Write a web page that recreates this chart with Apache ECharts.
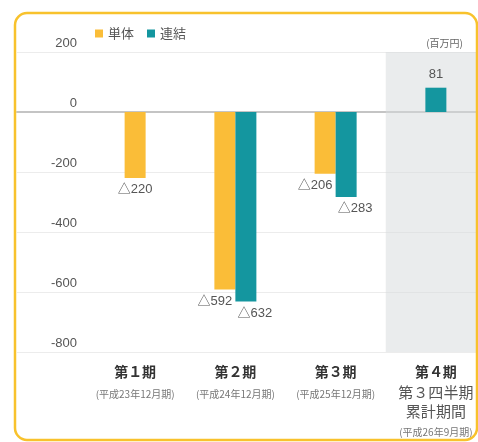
<!DOCTYPE html>
<html><head><meta charset="utf-8">
<script src="https://cdn.jsdelivr.net/npm/echarts@6/dist/echarts.min.js"></script>
<style>html,body{margin:0;padding:0;background:#fff}#c{width:478px;height:442px}</style>
</head><body><div id="c"></div>
<script>
var categories = ['第１期', '第２期', '第３期', '第４期'];
var subLabels = [
  ['(平成23年12月期)'],
  ['(平成24年12月期)'],
  ['(平成25年12月期)'],
  ['第３四半期', '累計期間', '(平成26年9月期)']
];
var tantai = [-220, -592, -206, null];   // 単体
var renketsu = [null, -632, -283, 81];   // 連結
var yTicks = { min: -800, max: 200, interval: 200 };
var unitLabel = '(百万円)';

var YELLOW = '#fabd38', TEAL = '#14969f';
var FONT = '"Liberation Sans","Noto Sans CJK JP",sans-serif';
var CJK = '"Noto Sans CJK JP",sans-serif';

function paired(i) { return tantai[i] != null && renketsu[i] != null; }
var pairT = tantai.map(function (v, i) { return paired(i) ? v : null; });
var pairR = renketsu.map(function (v, i) { return paired(i) ? v : null; });
var singleT = tantai.map(function (v, i) { return paired(i) ? null : v; });
var singleR = renketsu.map(function (v, i) { return paired(i) ? null : v; });

function fmtVal(p) {
  var v = p.value;
  if (v == null) return '';
  return v < 0 ? '△' + Math.abs(v) : String(v);
}
function lbl(offset) {
  return {
    show: true, formatter: fmtVal, color: '#555', fontSize: 13, fontFamily: FONT,
    distance: 5, offset: offset,
    position: 'bottom'
  };
}

var chart = echarts.init(document.getElementById('c'));
chart.setOption({
  animation: false,
  legend: {
    data: ['単体', '連結'], left: 90, top: 22, itemWidth: 8, itemHeight: 8, itemGap: 13,
    icon: 'rect', textStyle: { fontSize: 13, color: '#555', fontFamily: CJK }
  },
  title: {
    text: unitLabel, right: 10, top: 33,
    textStyle: { fontSize: 10, color: '#666', fontWeight: 'normal', fontFamily: CJK }
  },
  grid: [
    { left: 17, right: 0, top: 52, bottom: 90, outerBoundsMode: 'none', containLabel: false },
    { left: 85, width: 401, top: 52, bottom: 90, outerBoundsMode: 'none', containLabel: false }
  ],
  xAxis: [
    { gridIndex: 0, type: 'category', data: [''], axisTick: { show: false }, axisLabel: { show: false },
      axisLine: { show: true, onZero: true, lineStyle: { color: '#c4c4c4', width: 2 } } },
    { gridIndex: 1, type: 'category', data: categories, axisTick: { show: false }, axisLine: { show: false },
      axisLabel: {
        margin: 9, interval: 0, hideOverlap: false,
        formatter: function (v, i) {
          var s = '{a|' + v + '}';
          subLabels[i].forEach(function (t) {
            s += '\n' + (t.charAt(0) === '(' ? '{b|' + t + '}' : '{c|' + t + '}');
          });
          return s;
        },
        rich: {
          a: { fontSize: 14, fontWeight: 'bold', color: '#333', lineHeight: 22, fontFamily: CJK },
          b: { fontSize: 10, color: '#777', lineHeight: 22, fontFamily: CJK },
          c: { fontSize: 15, color: '#555', lineHeight: 19, fontFamily: CJK }
        }
      } },
    { gridIndex: 1, type: 'category', data: categories, show: false }
  ],
  yAxis: [
    { gridIndex: 0, type: 'value', min: yTicks.min, max: yTicks.max, interval: yTicks.interval,
      axisLine: { show: false }, axisTick: { show: false },
      splitLine: { lineStyle: { color: '#ececec', width: 1 } },
      axisLabel: { inside: true, margin: 60, align: 'right', verticalAlign: 'bottom', padding: [0, 0, 2, 0],
        color: '#555', fontSize: 13, fontFamily: FONT } },
    { gridIndex: 1, type: 'value', min: yTicks.min, max: yTicks.max, interval: yTicks.interval, show: false,
      splitLine: { show: false } }
  ],
  series: [
    { name: '単体', type: 'bar', xAxisIndex: 1, yAxisIndex: 1, data: pairT, barWidth: 21, barGap: '0%',
      itemStyle: { color: YELLOW }, label: lbl([-10, 0]),
      markArea: { silent: true, itemStyle: { color: 'rgba(214,217,219,0.5)' },
        data: [[{ xAxis: categories[3], yAxis: yTicks.max }, { xAxis: categories[3], yAxis: yTicks.min }]] } },
    { name: '連結', type: 'bar', xAxisIndex: 1, yAxisIndex: 1, data: pairR, barWidth: 21, barGap: '0%',
      itemStyle: { color: TEAL }, label: lbl([9, 0]) },
    { name: '単体', type: 'bar', xAxisIndex: 2, yAxisIndex: 1, data: singleT, barWidth: 21, barGap: '-100%',
      itemStyle: { color: YELLOW }, label: lbl([0, 0]) },
    { name: '連結', type: 'bar', xAxisIndex: 2, yAxisIndex: 1, data: singleR, barWidth: 21, barGap: '-100%',
      itemStyle: { color: TEAL },
      label: { show: true, formatter: fmtVal, color: '#555', fontSize: 13, fontFamily: FONT, position: 'top', distance: 7 } }
  ],
  graphic: [
    { type: 'rect', z: 100, silent: true,
      shape: { x: 15, y: 13, width: 462, height: 427, r: 12 },
      style: { fill: 'none', stroke: '#f8c22c', lineWidth: 2.5 } }
  ]
});
</script>
</body></html>
